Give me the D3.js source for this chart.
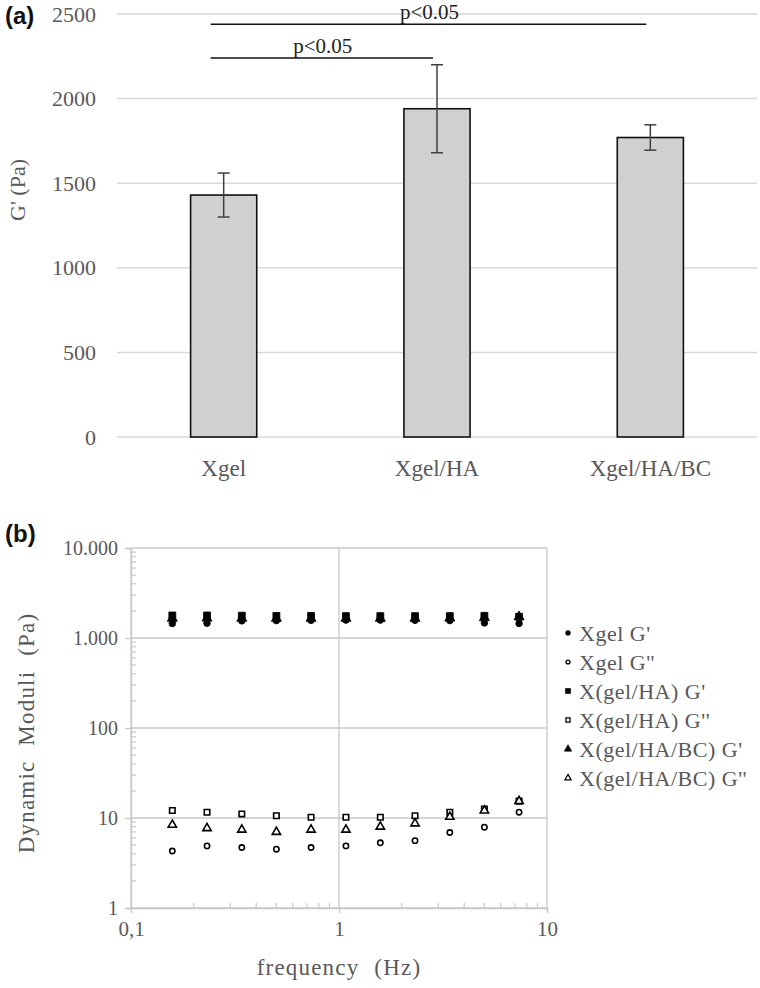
<!DOCTYPE html>
<html><head><meta charset="utf-8">
<script src="https://cdn.jsdelivr.net/npm/d3@7"></script>
<style>body{margin:0;background:#fff}svg{display:block}</style>
</head><body>
<svg id="c" width="760" height="988"></svg>
<script>
// ---- Panel (a) data ----
const categories = ["Xgel", "Xgel/HA", "Xgel/HA/BC"];
const gValues = [1430, 1940, 1770];
const gErrors = [130, 260, 75];
const barTicks = [0, 500, 1000, 1500, 2000, 2500];
const sigPairs = [[0, 1, 2240, "p<0.05"], [0, 2, 2440, "p<0.05"]];

// ---- Panel (b) data ----
const frequency = [0.158, 0.232, 0.341, 0.5, 0.734, 1.08, 1.58, 2.32, 3.41, 5.0, 7.34];
const xgelGp  = [1450, 1460, 1550, 1560, 1570, 1580, 1580, 1570, 1560, 1470, 1450];
const xgelGpp = [4.3, 4.9, 4.7, 4.5, 4.7, 4.9, 5.3, 5.6, 6.9, 7.9, 11.6];
const haGp    = [1780, 1780, 1770, 1760, 1760, 1750, 1750, 1750, 1750, 1760, 1720];
const haGpp   = [12.1, 11.6, 11.1, 10.6, 10.2, 10.2, 10.2, 10.6, 11.6, 12.6, 15.4];
const bcGp    = [1650, 1660, 1650, 1650, 1650, 1650, 1650, 1650, 1660, 1680, 1720];
const bcGpp   = [8.4, 7.7, 7.4, 7.0, 7.4, 7.4, 8.0, 8.7, 10.3, 12.1, 15.4];
const seriesNames = ["Xgel G'", "Xgel G''", "X(gel/HA) G'", "X(gel/HA) G''", "X(gel/HA/BC) G'", "X(gel/HA/BC) G''"];
const yTicksB = [1, 10, 100, 1000, 10000];
const yTickLabelsB = ["1", "10", "100", "1.000", "10.000"];
const xTicksB = [0.1, 1, 10];
const xTickLabelsB = ["0,1", "1", "10"];

const svg = d3.select("#c");
const GRAY = "#595959";
const SERIF = "font-family:'Liberation Serif','DejaVu Serif',serif";
const SANS = "font-family:'Liberation Sans','DejaVu Sans',sans-serif";

// ================= Panel (a) =================
const xA = d3.scaleBand().domain(categories).range([117, 757]).paddingInner(0.69).paddingOuter(0.345);
const yA = d3.scaleLinear().domain([0, 2500]).range([437, 14]);
const gA = svg.append("g");

gA.selectAll("line.grid").data(barTicks).join("line")
  .attr("x1", 117).attr("x2", 757)
  .attr("y1", d => yA(d)).attr("y2", d => yA(d))
  .attr("stroke", "#d9d9d9").attr("stroke-width", 1.5);

const axA = d3.axisLeft(yA).tickValues(barTicks).tickSize(0).tickPadding(0).tickFormat(d3.format("d"));
gA.append("g").attr("transform", "translate(96,0)").call(axA)
  .call(g => g.select(".domain").remove())
  .selectAll("text").attr("font-size", 22).attr("fill", GRAY).attr("style", SERIF);

const axAx = d3.axisBottom(xA).tickSize(0).tickPadding(0);
gA.append("g").attr("transform", "translate(0,460)").call(axAx)
  .call(g => g.select(".domain").remove())
  .selectAll("text").attr("font-size", 23).attr("fill", GRAY).attr("style", SERIF)
  .attr("dy", "0.71em");

gA.selectAll("rect.bar").data(categories).join("rect")
  .attr("x", d => xA(d)).attr("width", xA.bandwidth())
  .attr("y", (d, i) => yA(gValues[i])).attr("height", (d, i) => yA(0) - yA(gValues[i]))
  .attr("fill", "#d0d0d0").attr("stroke", "#111").attr("stroke-width", 1.6);

const eb = gA.selectAll("g.err").data(categories).join("g");
eb.append("line")
  .attr("x1", d => xA(d) + xA.bandwidth() / 2).attr("x2", d => xA(d) + xA.bandwidth() / 2)
  .attr("y1", (d, i) => yA(gValues[i] + gErrors[i])).attr("y2", (d, i) => yA(gValues[i] - gErrors[i]));
[1, -1].forEach(s => {
  eb.append("line")
    .attr("x1", d => xA(d) + xA.bandwidth() / 2 - 6).attr("x2", d => xA(d) + xA.bandwidth() / 2 + 6)
    .attr("y1", (d, i) => yA(gValues[i] + s * gErrors[i])).attr("y2", (d, i) => yA(gValues[i] + s * gErrors[i]));
});
eb.selectAll("line").attr("stroke", "#404040").attr("stroke-width", 1.5);

sigPairs.forEach(([a, b, v, t]) => {
  const x1 = xA(categories[a]) + xA.bandwidth() / 2 - 13;
  const x2 = xA(categories[b]) + xA.bandwidth() / 2 - 4;
  gA.append("line").attr("x1", x1).attr("x2", x2).attr("y1", yA(v)).attr("y2", yA(v))
    .attr("stroke", "#111").attr("stroke-width", 1.5);
  gA.append("text").attr("x", (x1 + x2) / 2 + 1).attr("y", yA(v) - 5).attr("style", SERIF)
    .attr("text-anchor", "middle").attr("font-size", 21).attr("fill", "#222").text(t);
});

svg.append("text").attr("transform", "translate(25,190) rotate(-90)").attr("style", SERIF)
  .attr("text-anchor", "middle").attr("font-size", 22).attr("fill", GRAY).text("G' (Pa)");
svg.append("text").attr("x", 5).attr("y", 24).attr("style", SANS)
  .attr("font-weight", "bold").attr("font-size", 24).attr("fill", "#111").text("(a)");

// ================= Panel (b) =================
const xB = d3.scaleLog().domain([0.1, 10]).range([131, 547]);
const yB = d3.scaleLog().domain([1, 10000]).range([908, 548]);
const gB = svg.append("g");
const GRID = "#c8c8c8";

gB.selectAll("line.hg").data(yTicksB).join("line")
  .attr("x1", 131).attr("x2", 547).attr("y1", d => yB(d)).attr("y2", d => yB(d))
  .attr("stroke", GRID).attr("stroke-width", 1.3);
gB.selectAll("line.vg").data(xTicksB).join("line")
  .attr("x1", d => xB(d)).attr("x2", d => xB(d)).attr("y1", 548).attr("y2", 908)
  .attr("stroke", GRID).attr("stroke-width", 1.3);

// minor ticks
const yMinor = [];
for (let dec = 1; dec < 10000; dec *= 10) for (let k = 2; k <= 9; k++) yMinor.push(dec * k);
const xMinor = [];
for (let dec = 0.1; dec < 9; dec *= 10) for (let k = 2; k <= 9; k++) xMinor.push(+(dec * k).toPrecision(3));
gB.selectAll("line.ym").data(yMinor).join("line")
  .attr("x1", 131).attr("x2", 136).attr("y1", d => yB(d)).attr("y2", d => yB(d))
  .attr("stroke", GRID).attr("stroke-width", 1.2);
gB.selectAll("line.xm").data(xMinor).join("line")
  .attr("x1", d => xB(d)).attr("x2", d => xB(d)).attr("y1", 908).attr("y2", 903)
  .attr("stroke", GRID).attr("stroke-width", 1.2);

const axBy = d3.axisLeft(yB).tickValues(yTicksB).tickSize(6).tickPadding(7)
  .tickFormat((d, i) => yTickLabelsB[i]);
gB.append("g").attr("transform", "translate(131,0)").call(axBy)
  .call(g => g.select(".domain").attr("stroke", GRID).attr("stroke-width", 1.3))
  .call(g => g.selectAll(".tick line").attr("stroke", GRID).attr("stroke-width", 1.3))
  .selectAll("text").attr("font-size", 20).attr("fill", GRAY).attr("style", SERIF);

const axBx = d3.axisBottom(xB).tickValues(xTicksB).tickSize(5).tickPadding(8)
  .tickFormat((d, i) => xTickLabelsB[i]);
gB.append("g").attr("transform", "translate(0,908)").call(axBx)
  .call(g => g.select(".domain").attr("stroke", GRID).attr("stroke-width", 1.3))
  .call(g => g.selectAll(".tick line").attr("stroke", GRID).attr("stroke-width", 1.3))
  .selectAll("text").attr("font-size", 21).attr("fill", GRAY).attr("style", SERIF);

const seriesData = [xgelGp, xgelGpp, haGp, haGpp, bcGp, bcGpp];
const symTypes = [d3.symbolCircle, d3.symbolCircle, d3.symbolSquare, d3.symbolSquare, d3.symbolTriangle, d3.symbolTriangle];
const symSizes = [34, 22, 48, 30, 44, 30];
const filled = [true, false, true, false, true, false];

seriesData.forEach((vals, s) => {
  const sym = d3.symbol().type(symTypes[s]).size(symSizes[s]);
  gB.append("g").selectAll("path").data(frequency).join("path")
    .attr("transform", (d, i) => `translate(${xB(d)},${yB(vals[i])})`)
    .attr("d", sym)
    .attr("fill", filled[s] ? "#000" : "#fff")
    .attr("stroke", "#000").attr("stroke-width", filled[s] ? 0.8 : 1.6);
});

// legend
const leg = svg.append("g").attr("transform", "translate(568,633)");
seriesNames.forEach((n, s) => {
  const sym = d3.symbol().type(symTypes[s]).size(symSizes[s] * 0.55);
  const g = leg.append("g").attr("transform", `translate(0,${s * 29})`);
  g.append("path").attr("d", sym).attr("fill", filled[s] ? "#000" : "#fff")
    .attr("stroke", "#000").attr("stroke-width", filled[s] ? 0.6 : 1.3);
  g.append("text").attr("x", 11).attr("dy", "0.35em").attr("font-size", 22).attr("style", SERIF)
    .attr("letter-spacing", 0.5).attr("fill", GRAY).text(n);
});

svg.append("text").attr("transform", "translate(34,733) rotate(-90)").attr("style", SERIF)
  .attr("text-anchor", "middle").attr("font-size", 23).attr("letter-spacing", 1.2)
  .attr("word-spacing", 8).attr("fill", GRAY).text("Dynamic Moduli (Pa)");
svg.append("text").attr("x", 339).attr("y", 975).attr("style", SERIF)
  .attr("text-anchor", "middle").attr("font-size", 23).attr("letter-spacing", 1.2)
  .attr("word-spacing", 8).attr("fill", GRAY).text("frequency (Hz)");
svg.append("text").attr("x", 5).attr("y", 542).attr("style", SANS)
  .attr("font-weight", "bold").attr("font-size", 24).attr("fill", "#111").text("(b)");
</script>
</body></html>
